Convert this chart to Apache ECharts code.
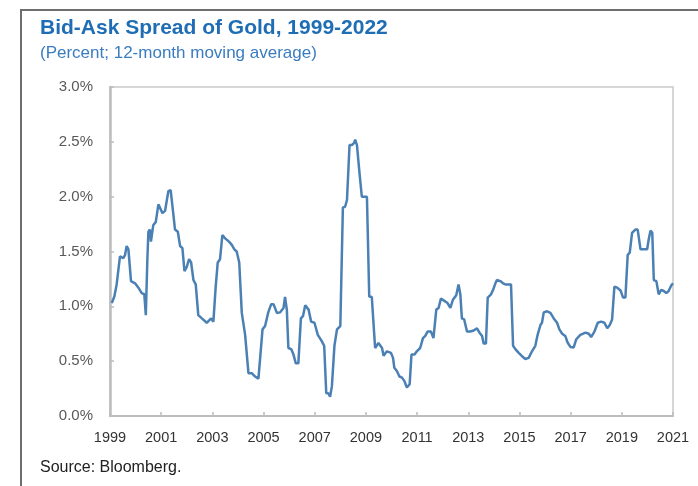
<!DOCTYPE html>
<html>
<head>
<meta charset="utf-8">
<script src="https://cdn.jsdelivr.net/npm/echarts@6/dist/echarts.min.js"></script>
<style>
  html, body { margin: 0; padding: 0; background: #fff; }
  #chart { width: 698px; height: 486px; }
</style>
</head>
<body>
<div id="chart"></div>
<script>
// Decimal-year dates and the 12-month moving average of the bid-ask spread (percent)
const dates = [
  1999.07, 1999.17, 1999.26, 1999.32, 1999.39, 1999.52, 1999.59, 1999.65, 1999.72, 1999.82,
  1999.98, 2000.11, 2000.24, 2000.34, 2000.40, 2000.46, 2000.50, 2000.56, 2000.60, 2000.69,
  2000.79, 2000.89, 2000.96, 2001.05, 2001.15, 2001.28, 2001.37, 2001.48, 2001.54, 2001.65,
  2001.74, 2001.83, 2001.91, 2002.00, 2002.09, 2002.17, 2002.26, 2002.35, 2002.45, 2002.59,
  2002.78, 2002.84, 2002.95, 2003.04, 2003.13, 2003.21, 2003.30, 2003.39, 2003.50, 2003.65,
  2003.76, 2003.86, 2003.95, 2004.05, 2004.15, 2004.28, 2004.41, 2004.54, 2004.67, 2004.80,
  2004.87, 2004.96, 2005.06, 2005.19, 2005.30, 2005.39, 2005.52, 2005.65, 2005.78, 2005.84,
  2005.91, 2005.97, 2006.08, 2006.17, 2006.26, 2006.36, 2006.46, 2006.54, 2006.63, 2006.76,
  2006.86, 2006.99, 2007.12, 2007.28, 2007.37, 2007.45, 2007.54, 2007.60, 2007.67, 2007.77,
  2007.87, 2008.00, 2008.06, 2008.10, 2008.19, 2008.26, 2008.36, 2008.45, 2008.54, 2008.58,
  2008.65, 2008.75, 2008.84, 2008.91, 2009.04, 2009.13, 2009.23, 2009.36, 2009.49, 2009.63,
  2009.69, 2009.82, 2009.98, 2010.06, 2010.11, 2010.21, 2010.31, 2010.41, 2010.50, 2010.60,
  2010.71, 2010.78, 2010.90, 2010.99, 2011.12, 2011.23, 2011.32, 2011.41, 2011.54, 2011.64,
  2011.75, 2011.84, 2011.93, 2012.10, 2012.19, 2012.30, 2012.40, 2012.53, 2012.62, 2012.69,
  2012.75, 2012.84, 2012.95, 2013.08, 2013.21, 2013.34, 2013.44, 2013.54, 2013.60, 2013.69,
  2013.76, 2013.89, 2013.97, 2014.06, 2014.12, 2014.25, 2014.36, 2014.45, 2014.67, 2014.75,
  2014.84, 2014.97, 2015.10, 2015.23, 2015.36, 2015.49, 2015.62, 2015.71, 2015.82, 2015.88,
  2015.95, 2016.08, 2016.21, 2016.34, 2016.47, 2016.56, 2016.67, 2016.79, 2016.88, 2016.99,
  2017.12, 2017.22, 2017.38, 2017.58, 2017.71, 2017.80, 2017.93, 2018.06, 2018.19, 2018.32,
  2018.43, 2018.53, 2018.62, 2018.71, 2018.82, 2018.95, 2019.05, 2019.14, 2019.23, 2019.31,
  2019.40, 2019.53, 2019.62, 2019.73, 2019.99, 2020.05, 2020.12, 2020.19, 2020.25, 2020.35,
  2020.44, 2020.54, 2020.64, 2020.74, 2020.83, 2020.93, 2021.00
];
const spread = [
  1.03, 1.09, 1.20, 1.21, 1.455, 1.44, 1.47, 1.55, 1.52, 1.23,
  1.21, 1.17, 1.12, 1.11, 0.92, 1.43, 1.68, 1.70, 1.59, 1.74,
  1.77, 1.93, 1.94, 1.85, 1.87, 2.05, 2.06, 1.83, 1.70, 1.68,
  1.55, 1.53, 1.32, 1.36, 1.43, 1.40, 1.24, 1.20, 0.92, 0.89,
  0.85, 0.85, 0.89, 0.86, 1.18, 1.40, 1.43, 1.65, 1.62, 1.59,
  1.56, 1.52, 1.50, 1.40, 0.94, 0.74, 0.39, 0.39, 0.36, 0.34,
  0.33, 0.79, 0.82, 0.95, 1.02, 1.02, 0.94, 0.945, 0.985, 1.085,
  0.97, 0.62, 0.61, 0.56, 0.48, 0.48, 0.89, 0.91, 1.01, 0.97,
  0.86, 0.85, 0.74, 0.68, 0.64, 0.21, 0.205, 0.175, 0.27, 0.64,
  0.79, 0.82, 0.83, 1.90, 1.91, 1.97, 2.47, 2.47, 2.49, 2.52,
  2.47, 2.215, 2.00, 1.99, 2.00, 1.09, 1.085, 0.62, 0.665, 0.62,
  0.55, 0.59, 0.575, 0.53, 0.44, 0.41, 0.36, 0.35, 0.32, 0.26,
  0.29, 0.56, 0.56, 0.59, 0.62, 0.71, 0.73, 0.77, 0.77, 0.71,
  0.97, 0.985, 1.07, 1.045, 1.03, 0.985, 1.06, 1.10, 1.20, 1.11,
  0.89, 0.88, 0.77, 0.77, 0.78, 0.80, 0.76, 0.73, 0.66, 0.66,
  1.08, 1.11, 1.15, 1.21, 1.24, 1.23, 1.21, 1.20, 1.20, 0.64,
  0.61, 0.575, 0.545, 0.52, 0.53, 0.59, 0.64, 0.74, 0.83, 0.85,
  0.945, 0.955, 0.94, 0.89, 0.85, 0.79, 0.75, 0.73, 0.67, 0.63,
  0.625, 0.70, 0.74, 0.76, 0.75, 0.72, 0.77, 0.85, 0.86, 0.85,
  0.80, 0.83, 0.88, 1.18, 1.17, 1.145, 1.08, 1.08, 1.47, 1.49,
  1.67, 1.70, 1.70, 1.52, 1.52, 1.61, 1.69, 1.67, 1.24, 1.23,
  1.11, 1.15, 1.14, 1.12, 1.14, 1.19, 1.21
];
// Axis ranges and tick spacing
const yearMin = 1999, yearMax = 2021, yearStep = 2;
const pctMin = 0, pctMax = 3, pctStep = 0.5;

const points = dates.map((d, i) => [d, spread[i]]);

const FONT = '"Liberation Sans", Arial, sans-serif';
const chart = echarts.init(document.getElementById('chart'), null, { renderer: 'canvas' });

chart.setOption({
  animation: false,
  backgroundColor: '#ffffff',
  textStyle: { fontFamily: FONT },
  title: [
    {
      text: 'Bid-Ask Spread of Gold, 1999-2022',
      left: 40, top: 18, padding: 0,
      textStyle: { fontFamily: FONT, fontSize: 21, fontWeight: 'bold', color: '#1f6db5' }
    },
    {
      text: '(Percent; 12-month moving average)',
      left: 40, top: 45, padding: 0,
      textStyle: { fontFamily: FONT, fontSize: 17, fontWeight: 'normal', color: '#3a7cc0' }
    },
    {
      text: 'Source: Bloomberg.',
      left: 40, top: 460, padding: 0,
      textStyle: { fontFamily: FONT, fontSize: 16, fontWeight: 'normal', color: '#222222' }
    }
  ],
  graphic: [
    {
      type: 'polyline',
      shape: { points: [[21, 486], [21, 10], [698, 10]] },
      style: { stroke: '#6e6e6e', lineWidth: 2, fill: null },
      silent: true
    }
  ],
  grid: {
    left: 110, right: 25, top: 87, bottom: 70,
    show: true, borderColor: '#c9c9c9', borderWidth: 1.5, backgroundColor: 'transparent'
  },
  xAxis: {
    type: 'value',
    min: yearMin, max: yearMax, interval: yearStep,
    axisLine: { show: true, lineStyle: { color: '#bdbdbd', width: 2 } },
    axisTick: { show: true, inside: true, length: 4, lineStyle: { color: '#bdbdbd', width: 1.5 } },
    splitLine: { show: false },
    axisLabel: {
      color: '#333333', fontSize: 14.5, fontFamily: FONT, margin: 14,
      formatter: v => String(Math.round(v))
    }
  },
  yAxis: {
    type: 'value',
    min: pctMin, max: pctMax, interval: pctStep,
    axisLine: { show: true, lineStyle: { color: '#bdbdbd', width: 2.5 } },
    axisTick: { show: true, inside: true, length: 4, lineStyle: { color: '#bdbdbd', width: 1.5 } },
    splitLine: { show: false },
    axisLabel: {
      color: '#595959', fontSize: 15, fontFamily: FONT, margin: 17,
      formatter: v => v.toFixed(1) + '%'
    }
  },
  series: [
    {
      type: 'line',
      data: points,
      symbol: 'none',
      smooth: false,
      lineStyle: { color: '#4a80b4', width: 2.5 },
      clip: true
    }
  ]
});
</script>
</body>
</html>
